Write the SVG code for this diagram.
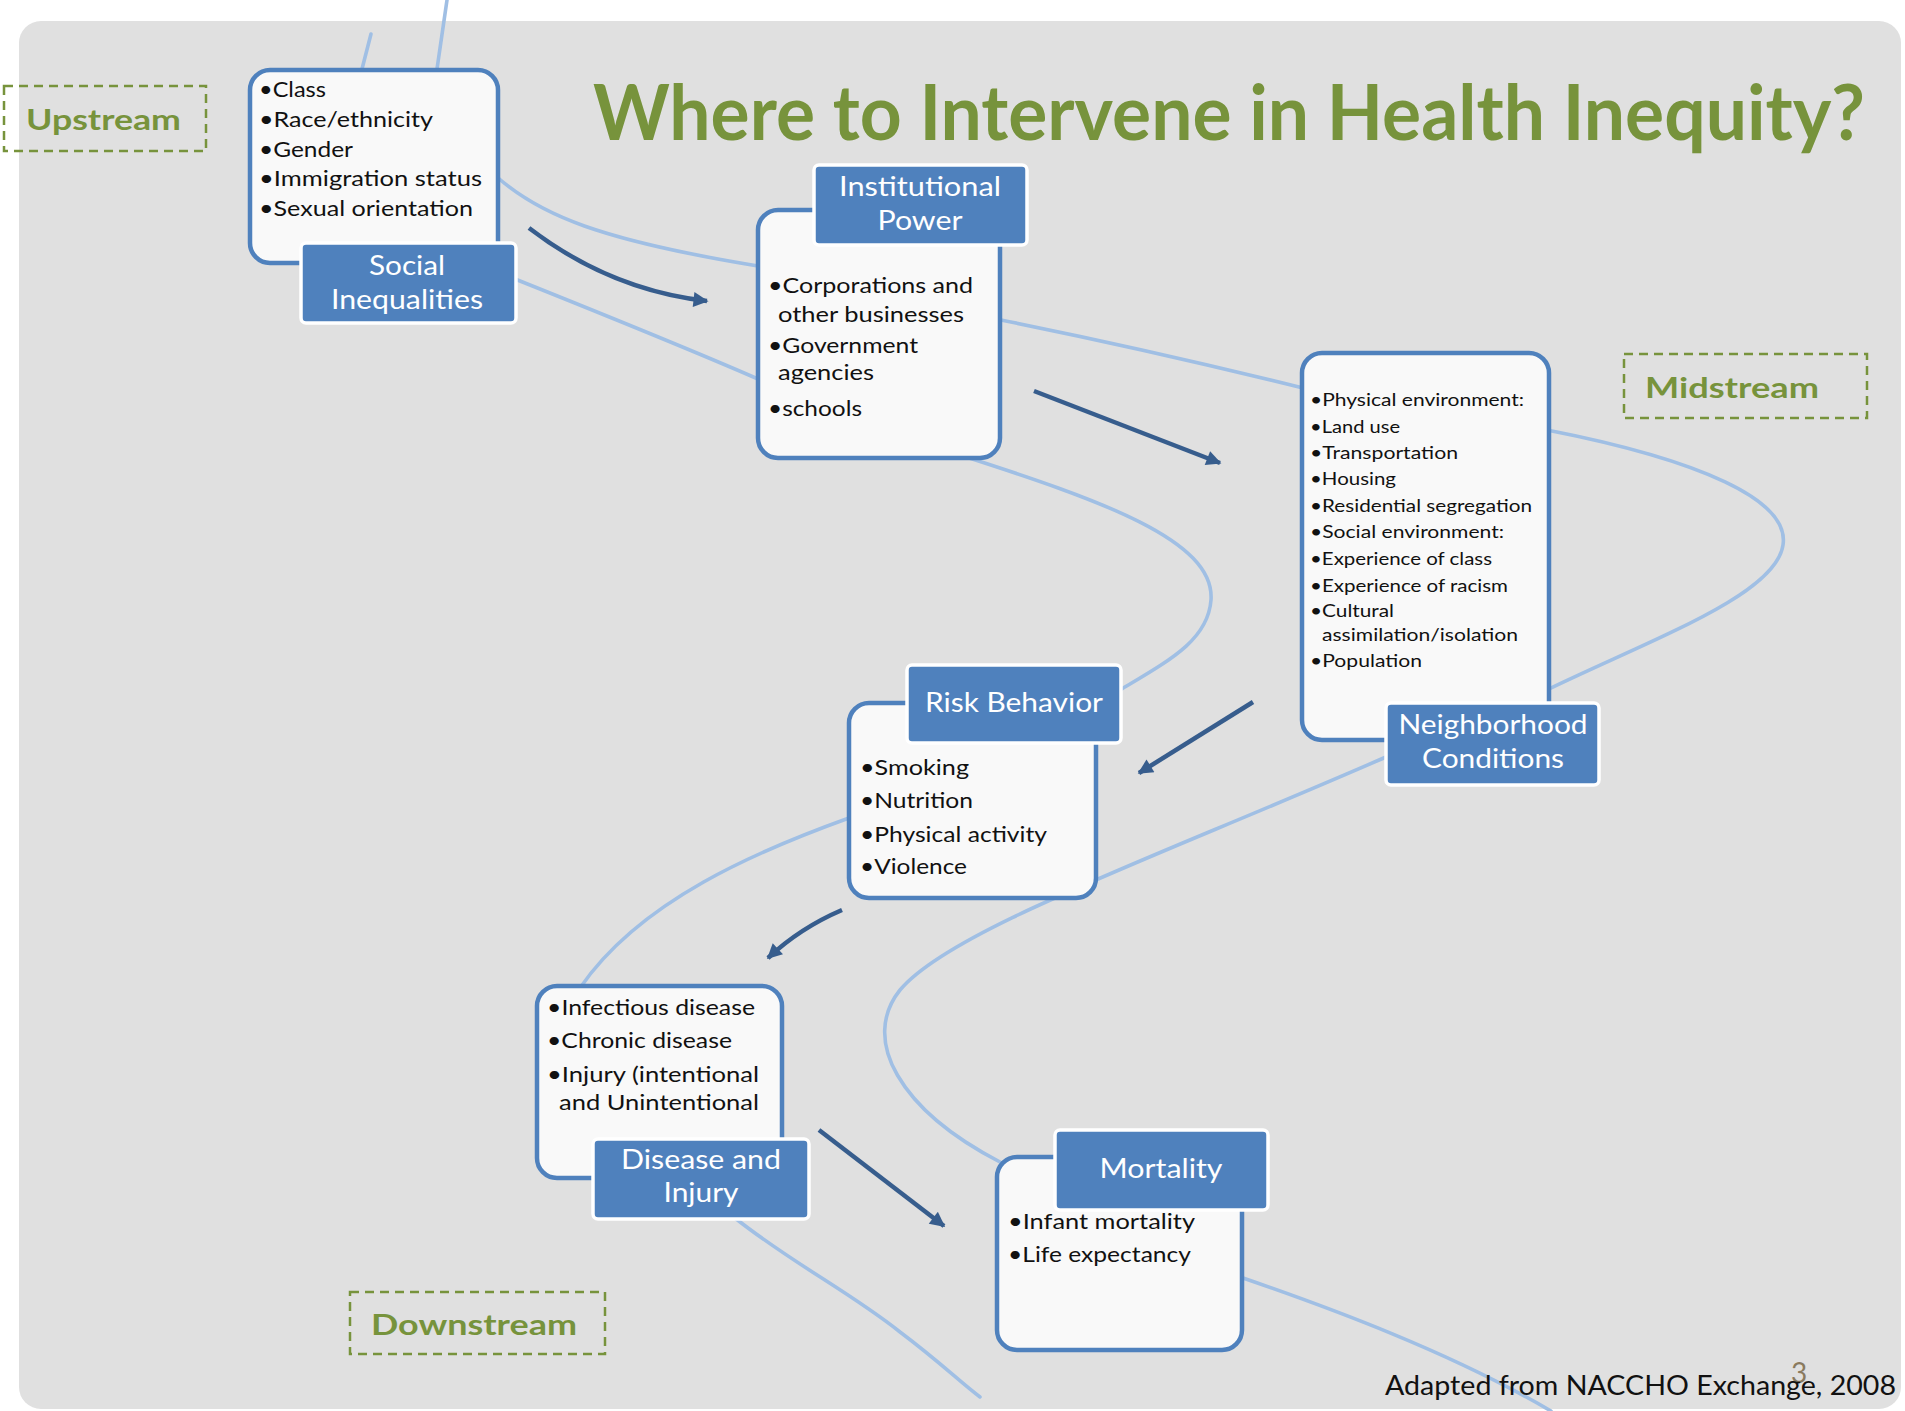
<svg xmlns="http://www.w3.org/2000/svg" width="1905" height="1411" viewBox="0 0 1905 1411">
<style>
.bg{fill:#e0e0e0}
.flow{fill:none;stroke:#a0bfe4;stroke-width:3.6;stroke-linecap:round}
.arr{fill:none;stroke:#375d8d;stroke-width:4.5}
.card{fill:#f9f9f9;stroke:#4f81bd;stroke-width:4.5}
.lab{fill:#4f81bd;stroke:#ffffff;stroke-width:3.5}
.lt{font-family:Lato,"Open Sans","Liberation Sans",sans-serif;font-size:26px;fill:#ffffff;text-anchor:middle}
.li{font-family:Lato,"Open Sans","Liberation Sans",sans-serif;font-size:21px;fill:#111111}
.ln{font-family:Lato,"Open Sans","Liberation Sans",sans-serif;font-size:17.5px;fill:#111111}
.zone{fill:none;stroke:#77933c;stroke-width:2.5;stroke-dasharray:9 6}
.zt{font-family:Lato,"Open Sans","Liberation Sans",sans-serif;font-size:29px;font-weight:bold;fill:#77933c}
</style>
<defs>
<marker id="ah" viewBox="0 0 10 10" refX="9" refY="5" markerWidth="18" markerHeight="15" markerUnits="userSpaceOnUse" orient="auto">
<path d="M0,0 L10,5 L0,10 z" fill="#375d8d"/>
</marker>
</defs>
<rect x="0" y="0" width="1905" height="1411" fill="#ffffff"/>
<rect class="bg" x="19" y="21" width="1882" height="1388" rx="22"/>

<g id="connectors">
<g id="flow-lines">
<path class="flow" d="M447,0 L437,69"/>
<path class="flow" d="M371,34 L362,69"/>
<path class="flow" d="M497,177 C540,215 600,240 758,266"/>
<path class="flow" d="M515,279 C580,305 680,345 758,379"/>
<path class="flow" d="M1001,320 Q1150,350 1303,388"/>
<path class="flow" d="M960,455 C1100,500 1215,540 1211,600 C1208,640 1170,660 1120,690"/>
<path class="flow" d="M1547,430 C1700,460 1790,500 1783,545 C1776,595 1650,640 1547,690"/>
<path class="flow" d="M1386,757 C1150,860 950,930 900,990 C860,1040 900,1110 1000,1162"/>
<path class="flow" d="M849,818 C760,850 640,900 580,988"/>
<path class="flow" d="M735,1218 C790,1262 850,1292 900,1332 C940,1362 960,1382 980,1397"/>
<path class="flow" d="M1243,1278 C1330,1308 1450,1352 1551,1411"/>
</g>
<g id="arrows">
<path class="arr" d="M529,228 Q610,290 707,301" marker-end="url(#ah)"/>
<path class="arr" d="M1034,391 L1220,463" marker-end="url(#ah)"/>
<path class="arr" d="M1253,702 L1139,773" marker-end="url(#ah)"/>
<path class="arr" d="M842,910 Q800,928 768,958" marker-end="url(#ah)"/>
<path class="arr" d="M819,1130 L944,1226" marker-end="url(#ah)"/>
</g>
</g>

<text x="593" y="140" font-family="Lato,'Open Sans','Liberation Sans',sans-serif" font-size="76" font-weight="bold" fill="#77933c" textLength="1272" lengthAdjust="spacingAndGlyphs">Where to Intervene in Health Inequity?</text>

<g id="upstream">
<rect class="zone" x="4" y="86" width="202" height="65"/>
<text class="zt" x="26" y="130" textLength="155" lengthAdjust="spacingAndGlyphs">Upstream</text>
</g>
<g id="midstream">
<rect class="zone" x="1624" y="354" width="243" height="64"/>
<text class="zt" x="1645" y="398" textLength="174" lengthAdjust="spacingAndGlyphs">Midstream</text>
</g>
<g id="downstream">
<rect class="zone" x="350" y="1292" width="255" height="62"/>
<text class="zt" x="371" y="1335" textLength="206" lengthAdjust="spacingAndGlyphs">Downstream</text>
</g>

<g id="social-inequalities">
<rect class="card" x="250" y="70" width="248" height="193" rx="20"/>
<text class="li" x="259" y="97" textLength="67" lengthAdjust="spacingAndGlyphs">•Class</text>
<text class="li" x="259" y="127" textLength="174" lengthAdjust="spacingAndGlyphs">•Race/ethnicity</text>
<text class="li" x="259" y="157" textLength="94" lengthAdjust="spacingAndGlyphs">•Gender</text>
<text class="li" x="259" y="186" textLength="223" lengthAdjust="spacingAndGlyphs">•Immigration status</text>
<text class="li" x="259" y="216" textLength="214" lengthAdjust="spacingAndGlyphs">•Sexual orientation</text>
<rect class="lab" x="301" y="243" width="215" height="80" rx="5"/>
<text class="lt" x="407" y="275" textLength="76" lengthAdjust="spacingAndGlyphs">Social</text>
<text class="lt" x="407" y="309" textLength="152" lengthAdjust="spacingAndGlyphs">Inequalities</text>
</g>

<g id="institutional-power">
<rect class="card" x="758" y="210" width="242" height="248" rx="20"/>
<text class="li" x="768" y="293" textLength="205" lengthAdjust="spacingAndGlyphs">•Corporations and</text>
<text class="li" x="778" y="322" textLength="186" lengthAdjust="spacingAndGlyphs">other businesses</text>
<text class="li" x="768" y="353" textLength="150" lengthAdjust="spacingAndGlyphs">•Government</text>
<text class="li" x="778" y="380" textLength="96" lengthAdjust="spacingAndGlyphs">agencies</text>
<text class="li" x="768" y="416" textLength="94" lengthAdjust="spacingAndGlyphs">•schools</text>
<rect class="lab" x="814" y="165" width="213" height="80" rx="5"/>
<text class="lt" x="920" y="196" textLength="162" lengthAdjust="spacingAndGlyphs">Institutional</text>
<text class="lt" x="920" y="230" textLength="85" lengthAdjust="spacingAndGlyphs">Power</text>
</g>

<g id="neighborhood-conditions">
<rect class="card" x="1302" y="353" width="247" height="387" rx="20"/>
<text class="ln" x="1310" y="406" textLength="214" lengthAdjust="spacingAndGlyphs">•Physical environment:</text>
<text class="ln" x="1310" y="433" textLength="90" lengthAdjust="spacingAndGlyphs">•Land use</text>
<text class="ln" x="1310" y="459" textLength="148" lengthAdjust="spacingAndGlyphs">•Transportation</text>
<text class="ln" x="1310" y="485" textLength="86" lengthAdjust="spacingAndGlyphs">•Housing</text>
<text class="ln" x="1310" y="512" textLength="222" lengthAdjust="spacingAndGlyphs">•Residential segregation</text>
<text class="ln" x="1310" y="538" textLength="194" lengthAdjust="spacingAndGlyphs">•Social environment:</text>
<text class="ln" x="1310" y="565" textLength="182" lengthAdjust="spacingAndGlyphs">•Experience of class</text>
<text class="ln" x="1310" y="592" textLength="198" lengthAdjust="spacingAndGlyphs">•Experience of racism</text>
<text class="ln" x="1310" y="617" textLength="84" lengthAdjust="spacingAndGlyphs">•Cultural</text>
<text class="ln" x="1322" y="641" textLength="196" lengthAdjust="spacingAndGlyphs">assimilation/isolation</text>
<text class="ln" x="1310" y="667" textLength="112" lengthAdjust="spacingAndGlyphs">•Population</text>
<rect class="lab" x="1386" y="703" width="213" height="82" rx="5"/>
<text class="lt" x="1493" y="734" textLength="189" lengthAdjust="spacingAndGlyphs">Neighborhood</text>
<text class="lt" x="1493" y="768" textLength="142" lengthAdjust="spacingAndGlyphs">Conditions</text>
</g>

<g id="risk-behavior">
<rect class="card" x="849" y="703" width="247" height="195" rx="20"/>
<text class="li" x="860" y="775" textLength="109" lengthAdjust="spacingAndGlyphs">•Smoking</text>
<text class="li" x="860" y="808" textLength="113" lengthAdjust="spacingAndGlyphs">•Nutrition</text>
<text class="li" x="860" y="842" textLength="187" lengthAdjust="spacingAndGlyphs">•Physical activity</text>
<text class="li" x="860" y="874" textLength="107" lengthAdjust="spacingAndGlyphs">•Violence</text>
<rect class="lab" x="907" y="665" width="214" height="78" rx="5"/>
<text class="lt" x="1014" y="712" textLength="178" lengthAdjust="spacingAndGlyphs">Risk Behavior</text>
</g>

<g id="disease-and-injury">
<rect class="card" x="537" y="986" width="245" height="192" rx="20"/>
<text class="li" x="547" y="1015" textLength="208" lengthAdjust="spacingAndGlyphs">•Infectious disease</text>
<text class="li" x="547" y="1048" textLength="185" lengthAdjust="spacingAndGlyphs">•Chronic disease</text>
<text class="li" x="547" y="1082" textLength="212" lengthAdjust="spacingAndGlyphs">•Injury (intentional</text>
<text class="li" x="559" y="1110" textLength="200" lengthAdjust="spacingAndGlyphs">and Unintentional</text>
<rect class="lab" x="593" y="1139" width="216" height="80" rx="5"/>
<text class="lt" x="701" y="1169" textLength="160" lengthAdjust="spacingAndGlyphs">Disease and</text>
<text class="lt" x="701" y="1202" textLength="75" lengthAdjust="spacingAndGlyphs">Injury</text>
</g>

<g id="mortality">
<rect class="card" x="997" y="1157" width="245" height="193" rx="20"/>
<text class="li" x="1008" y="1229" textLength="187" lengthAdjust="spacingAndGlyphs">•Infant mortality</text>
<text class="li" x="1008" y="1262" textLength="183" lengthAdjust="spacingAndGlyphs">•Life expectancy</text>
<rect class="lab" x="1055" y="1130" width="213" height="80" rx="5"/>
<text class="lt" x="1161" y="1178" textLength="123" lengthAdjust="spacingAndGlyphs">Mortality</text>
</g>

<text x="1799" y="1383" font-family="Lato,'Open Sans','Liberation Sans',sans-serif" font-size="28" fill="#8a7a5e" text-anchor="middle">3</text>
<text x="1385" y="1395" font-family="Lato,'Open Sans','Liberation Sans',sans-serif" font-size="26" fill="#111111" textLength="511" lengthAdjust="spacingAndGlyphs">Adapted from NACCHO Exchange, 2008</text>
</svg>
